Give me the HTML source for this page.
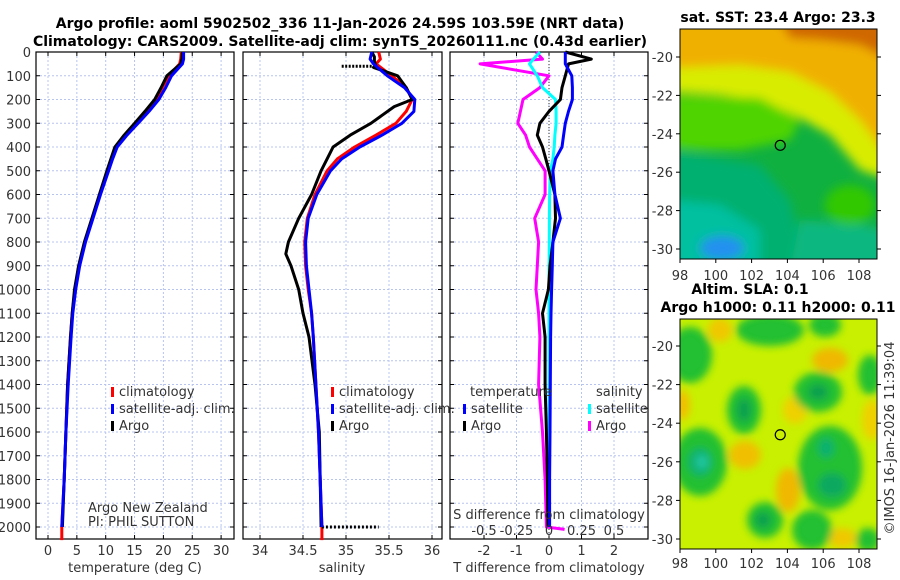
<!DOCTYPE html>
<html><head><meta charset="utf-8">
<style>
body{margin:0;background:#fff;}
svg{display:block;font-family:"DejaVu Sans","Liberation Sans",sans-serif;}
.t{font-size:13px;fill:#333;}
.b{font-size:14px;font-weight:bold;fill:#000;}
</style></head>
<body>
<svg id="c" width="900" height="580" viewBox="0 0 900 580">
<defs>
<filter id="bl" x="-20%" y="-20%" width="140%" height="140%"><feGaussianBlur stdDeviation="5"/></filter>
<filter id="bl2" x="-50%" y="-50%" width="200%" height="200%"><feGaussianBlur stdDeviation="4"/></filter>
<clipPath id="cm1"><rect x="680" y="29" width="197" height="230"/></clipPath>
<clipPath id="cm2"><rect x="680" y="319" width="197" height="230"/></clipPath>
</defs>
<text class="b" x="340" y="28" text-anchor="middle">Argo profile: aoml 5902502_336 11-Jan-2026 24.59S 103.59E (NRT data)</text>
<text class="b" x="340" y="46" text-anchor="middle">Climatology: CARS2009. Satellite-adj clim: synTS_20260111.nc (0.43d earlier)</text>

<g id="p1"></g>
<g id="p2"></g>
<g id="p3"></g>

<!-- SST map -->
<g>
<text class="b" x="778" y="22" text-anchor="middle">sat. SST: 23.4 Argo: 23.3</text>
<g clip-path="url(#cm1)">
<rect x="680" y="29" width="197" height="230" fill="#10b040"/>
<g filter="url(#bl)">
<polygon points="670,20 890,20 890,180 860,170 830,135 800,118 760,100 720,95 670,92" fill="#d8ec00"/>
<polygon points="670,20 890,20 890,160 860,120 830,92 790,72 740,65 670,68" fill="#f0b000"/>
<polygon points="780,20 890,20 890,60 860,45 820,40 790,38" fill="#d06800"/>
<polygon points="670,95 760,98 800,120 790,140 740,150 700,150 670,148" fill="#50d400"/>
<polygon points="670,150 760,165 790,200 800,240 790,270 670,270" fill="#00b070"/>
<polygon points="800,220 860,225 890,230 890,270 790,270" fill="#10b880"/>
<polygon points="670,200 720,205 760,230 760,270 670,270" fill="#00c0a0"/>
<ellipse cx="722" cy="248" rx="22" ry="12" fill="#2090f0"/>
<ellipse cx="850" cy="205" rx="25" ry="20" fill="#30c800"/>
</g>
</g>
<rect x="680" y="29" width="197" height="230" fill="none" stroke="#000" stroke-width="1"/>
<g id="m1"></g>
</g>

<!-- SLA map -->
<g>
<text class="b" x="750" y="294" text-anchor="middle">Altim. SLA: 0.1</text>
<text class="b" x="778" y="312" text-anchor="middle">Argo h1000: 0.11 h2000: 0.11</text>
<g clip-path="url(#cm2)">
<rect x="680" y="319" width="197" height="230" fill="#c8f000"/>
<g filter="url(#bl2)">
<ellipse cx="720" cy="330" rx="12" ry="12" fill="#f0c800"/>
<ellipse cx="830" cy="360" rx="18" ry="12" fill="#f0b800"/>
<ellipse cx="795" cy="410" rx="12" ry="14" fill="#f0d000"/>
<ellipse cx="745" cy="455" rx="16" ry="14" fill="#f0c000"/>
<ellipse cx="788" cy="490" rx="12" ry="22" fill="#f0b800"/>
<ellipse cx="682" cy="405" rx="8" ry="15" fill="#f0c000"/>
<ellipse cx="872" cy="420" rx="10" ry="20" fill="#f0d000"/>
<ellipse cx="842" cy="538" rx="14" ry="10" fill="#f0c800"/>
<ellipse cx="690" cy="355" rx="22" ry="28" fill="#20c030"/>
<ellipse cx="770" cy="330" rx="34" ry="16" fill="#20c030"/>
<ellipse cx="825" cy="325" rx="16" ry="12" fill="#20c030"/>
<ellipse cx="870" cy="375" rx="12" ry="20" fill="#20c030"/>
<ellipse cx="818" cy="392" rx="24" ry="20" fill="#20c030"/>
<ellipse cx="744" cy="410" rx="17" ry="24" fill="#20c030"/>
<ellipse cx="700" cy="462" rx="27" ry="34" fill="#20c030"/>
<ellipse cx="830" cy="468" rx="32" ry="42" fill="#20c030"/>
<ellipse cx="765" cy="520" rx="18" ry="18" fill="#20c030"/>
<ellipse cx="812" cy="530" rx="20" ry="20" fill="#20c030"/>
<ellipse cx="868" cy="540" rx="12" ry="12" fill="#20c030"/>
<ellipse cx="818" cy="392" rx="10" ry="8" fill="#10a050"/>
<ellipse cx="744" cy="410" rx="7" ry="12" fill="#10a050"/>
<ellipse cx="700" cy="462" rx="12" ry="14" fill="#10b070"/>
<ellipse cx="702" cy="462" rx="6" ry="7" fill="#20c8a0"/>
<ellipse cx="826" cy="448" rx="8" ry="10" fill="#10b070"/>
<ellipse cx="832" cy="485" rx="14" ry="12" fill="#10a860"/>
<ellipse cx="763" cy="520" rx="8" ry="8" fill="#10a050"/>
</g>
</g>
<rect x="680" y="319" width="197" height="230" fill="none" stroke="#000" stroke-width="1"/>
<g id="m2"></g>
</g>
<text class="t" transform="translate(894,438) rotate(-90)" text-anchor="middle">©IMOS 16-Jan-2026 11:39:04</text>
</svg>
<script>
// ---- data ----
const depths = [0,30,50,100,150,200,250,300,350,400,450,500,600,700,800,900,1000,1100,1200,1400,1600,1800,2000];
const tempArgo = [23.3,23.2,23.0,20.6,19.6,18.5,16.8,15.0,13.2,11.6,10.9,10.2,8.9,7.6,6.3,5.3,4.6,4.2,3.9,3.4,3.1,2.8,2.5];
const tempClim = [23.1,23.0,22.8,20.9,19.8,18.8,17.1,15.2,13.3,11.8,11.0,10.3,9.0,7.7,6.4,5.4,4.7,4.2,3.9,3.4,3.1,2.8,2.4];
const tempSat  = [23.5,23.5,23.3,21.4,20.4,19.2,17.5,15.6,13.7,12.0,11.2,10.5,9.1,7.8,6.5,5.5,4.8,4.3,4.0,3.5,3.1,2.8,2.4];
const salArgoDepths = [60,65,100,150,200,230,300,350,400,450,500,600,700,800,850,900,1000,1100,1200,1400,1600,2000];
const salArgo = [35.35,35.32,35.6,35.7,35.77,35.56,35.29,35.05,34.85,34.78,34.71,34.6,34.45,34.33,34.3,34.36,34.45,34.5,34.57,34.64,34.69,34.71];
const salClim = [35.38,35.4,35.35,35.53,35.7,35.77,35.7,35.58,35.35,35.1,34.9,34.78,34.64,34.55,34.52,34.53,34.56,34.6,34.62,34.65,34.68,34.7,34.72];
const salSat  = [35.30,35.28,35.32,35.48,35.68,35.8,35.79,35.65,35.42,35.16,34.95,34.82,34.66,34.56,34.53,34.54,34.57,34.6,34.62,34.65,34.68,34.7,34.72];
const salArgoSurfDepths = [0,20,40,60];
const salArgoSurf = [35.3,35.33,35.33,35.35];
const salArgoTop = [34.95,35.33];
const salArgoTail = [34.72,35.38];
const dTsat  = [0.5,0.5,0.5,0.7,0.72,0.72,0.6,0.5,0.45,0.4,0.2,0.12,0.18,0.35,0.12,0.1,0.08,0.06,0.05,0.04,0.03,0.02,0.02];
const dTargo = [0.5,1.3,0.6,0.5,0.4,0.35,0,-0.28,-0.36,-0.2,-0.1,0,0.18,0.2,0.12,0.03,-0.02,-0.2,-0.12,-0.12,-0.08,-0.05,-0.03];
const dSsat  = [-0.07,-0.12,-0.15,-0.09,-0.05,0.05,0.055,0.055,0.045,0.04,0.03,0.01,0.005,0.003,0.002,0.001,0,0,0,0,0,0,0];
const dSargo = [-0.1,-0.05,-0.53,0,-0.07,-0.2,-0.22,-0.24,-0.18,-0.15,-0.09,-0.03,-0.03,-0.11,-0.08,-0.09,-0.1,-0.08,-0.07,-0.08,-0.05,-0.03,-0.02];
const tTicks = [0,5,10,15,20,25,30];
const sTicks = [34,34.5,35,35.5,36];
const dTTicks = [-2,-1,0,1,2];
const dSTicks = [-0.5,-0.25,0,0.25,0.5];
const depthTicks = [0,100,200,300,400,500,600,700,800,900,1000,1100,1200,1300,1400,1500,1600,1700,1800,1900,2000];
const lonTicks = [98,100,102,104,106,108];
const latTicks = [-20,-22,-24,-26,-28,-30];
const argoLon = [103.6];
const argoLat = [-24.6];

// ---- scales ----
const yD = d => 52 + 0.2375*d;
const xT = t => 48 + 5.77*t;
const xS = s => 260 + 86*(s-34);
const xDT = v => 549 + 32.5*v;
const xDS = v => 549 + 130*v;
const NS='http://www.w3.org/2000/svg';
function el(tag, attrs, parent){const e=document.createElementNS(NS,tag);for(const k in attrs)e.setAttribute(k,attrs[k]);parent.appendChild(e);return e;}
function txt(parent,x,y,s,anchor,cls){const e=el('text',{x:x,y:y,'text-anchor':anchor||'middle','class':cls||'t'},parent);e.textContent=s;return e;}

function panel(g,x0,x1,xticks,xf,labels){
  const y0=52,y1=539;
  depthTicks.forEach(d=>{
    const l=el('line',{x1:x0,x2:x1,y1:yD(d),y2:yD(d),stroke:'#b8c4f0','stroke-dasharray':'2,2','stroke-width':1},g);
    
    
    el('line',{x1:x0,x2:x0+4,y1:yD(d),y2:yD(d),stroke:'#000'},g);
    el('line',{x1:x1-4,x2:x1,y1:yD(d),y2:yD(d),stroke:'#000'},g);
  });
  xticks.forEach((v,i)=>{
    const x=xf(v);
    const l=el('line',{x1:x,x2:x,y1:y0,y2:y1,stroke:'#b8c4f0','stroke-dasharray':'2,2','stroke-width':1},g);
    
    
    el('line',{x1:x,x2:x,y1:y1-4,y2:y1,stroke:'#000'},g);
    el('line',{x1:x,x2:x,y1:y0,y2:y0+4,stroke:'#000'},g);
    const t=txt(g,x,555,labels?labels[i]:String(v));
    
    
  });
  const r=el('rect',{x:x0,y:y0,width:x1-x0,height:y1-y0,fill:'none',stroke:'#000','stroke-width':1.2},g);
  
  
}
function line(g,xs,ds,xf,color,w,name,dash){
  const p=xs.map((v,i)=>xf(v).toFixed(1)+','+yD(ds[i]).toFixed(1)).join(' ');
  const a={points:p,fill:'none',stroke:color,'stroke-width':w,'stroke-linejoin':'round'};
  if(dash)a['stroke-dasharray']=dash;
  const e=el('polyline',a,g);
  
  
  return e;
}
function legend(g,x,y,color,label){
  const b=el('rect',{x:x,y:y-9,width:3,height:10,fill:color},g);
  
  
  const t=txt(g,x+8,y,label,'start');
  
  
}

// panel 1
const p1=document.getElementById('p1');
panel(p1,36,234,tTicks,xT);
depthTicks.forEach(d=>{const t=txt(p1,31,yD(d)+5,String(d),'end');
  
  });
line(p1,tempClim.concat([2.4]),depths.concat([2055]),xT,'#ff0000',3,'temp-climatology-line');
line(p1,tempArgo,depths,xT,'#000',3,'temp-argo-line');
line(p1,tempSat,depths,xT,'#0000ff',3,'temp-satellite-line');
legend(p1,111,396,'#ff0000','climatology');
legend(p1,111,413,'#0000ff','satellite-adj. clim.');
legend(p1,111,430,'#000','Argo');
txt(p1,88,512,'Argo New Zealand','start');
txt(p1,88,526,'PI: PHIL SUTTON','start');
const a1=txt(p1,135,572,'temperature (deg C)');



// panel 2
const p2=document.getElementById('p2');
panel(p2,243,442,sTicks,xS);
line(p2,salClim.concat([34.72]),depths.concat([2055]),xS,'#ff0000',3,'sal-climatology-line');
line(p2,salArgoSurf,salArgoSurfDepths,xS,'#000',3,'sal-argo-surface-line');
line(p2,salArgoTop,[60,60],xS,'#000',3,'sal-argo-spike','2,1.5');
line(p2,salArgo,salArgoDepths,xS,'#000',3,'sal-argo-line');
line(p2,salArgoTail,[2000,2000],xS,'#000',3,'sal-argo-tail','2,2');
line(p2,salSat,depths,xS,'#0000ff',3,'sal-satellite-line');
legend(p2,331,396,'#ff0000','climatology');
legend(p2,331,413,'#0000ff','satellite-adj. clim.');
legend(p2,331,430,'#000','Argo');
const a2=txt(p2,342,572,'salinity');



// panel 3
const p3=document.getElementById('p3');
panel(p3,450,648,dTTicks,xDT);
const zl=el('line',{x1:549,x2:549,y1:52,y2:539,stroke:'#333','stroke-dasharray':'1,2'},p3);


line(p3,dSargo.concat([0.12]),depths.concat([2010]),xDS,'#ff00ff',3,'sal-diff-argo-line');
line(p3,dSsat,depths,xDS,'#00ffff',3,'sal-diff-satellite-line');
line(p3,dTargo,depths,xDT,'#000',3,'temp-diff-argo-line');
line(p3,dTsat,depths,xDT,'#0000ff',3,'temp-diff-satellite-line');
txt(p3,470,396,'temperature','start');
legend(p3,463,413,'#0000ff','satellite');
legend(p3,463,430,'#000','Argo');
txt(p3,596,396,'salinity','start');
legend(p3,588,413,'#00ffff','satellite');
legend(p3,588,430,'#ff00ff','Argo');
txt(p3,549,519,'S difference from climatology');
dSTicks.forEach(v=>{const t=txt(p3,xDS(v),535,String(v));
  
  });
const a3=txt(p3,549,572,'T difference from climatology');



// maps
function mapAxes(g,yf,ytop,ybot,xlabelY){
  const xf=lon=>680+17.9*(lon-98);
  lonTicks.forEach(v=>{
    el('line',{x1:xf(v),x2:xf(v),y1:ybot,y2:ybot+4,stroke:'#000'},g);
    const t=txt(g,xf(v),xlabelY,String(v));
    
    
  });
  latTicks.forEach(v=>{
    el('line',{x1:676,x2:680,y1:yf(v),y2:yf(v),stroke:'#000'},g);
    el('line',{x1:877,x2:881,y1:yf(v),y2:yf(v),stroke:'#000'},g);
    const t=txt(g,673,yf(v)+5,String(v),'end');
    
    
  });
  argoLon.forEach((lon,i)=>{
    const c=el('circle',{cx:xf(lon),cy:yf(argoLat[i]),r:5,fill:'none',stroke:'#000','stroke-width':1.2},g);
    
    
  });
}
mapAxes(document.getElementById('m1'),lat=>57+19.2*(-20-lat),29,259,280);
mapAxes(document.getElementById('m2'),lat=>346+19.3*(-20-lat),319,549,568);
</script>
</body></html>
